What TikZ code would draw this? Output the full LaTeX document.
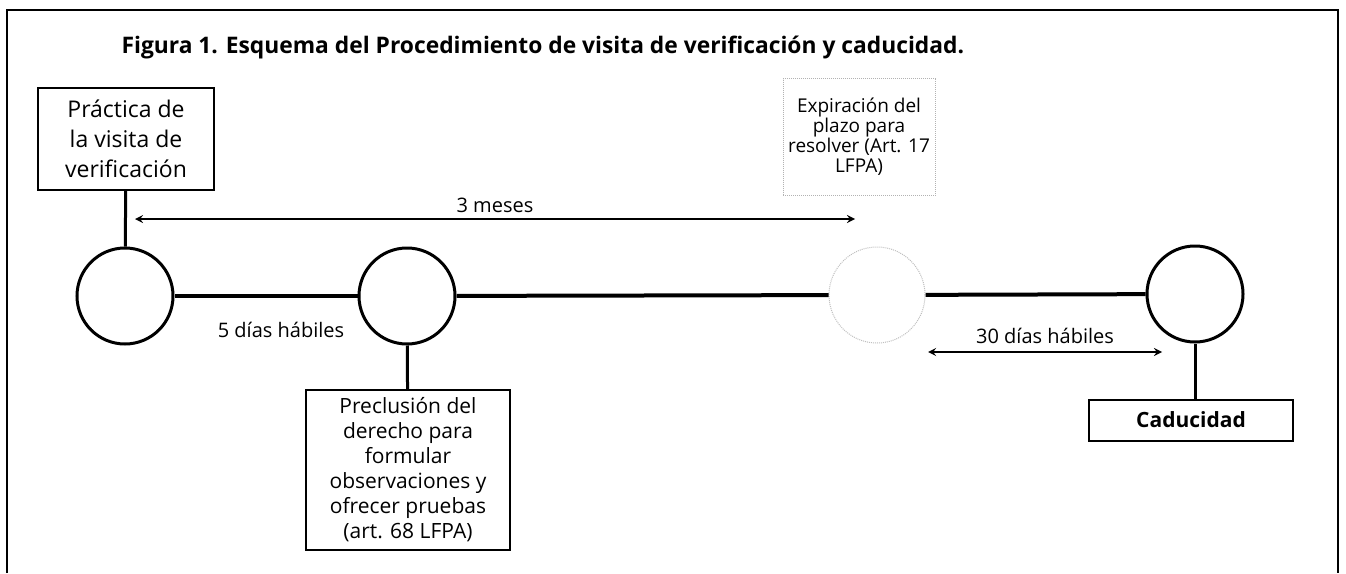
\documentclass[tikz,border=0pt]{standalone}
\usepackage{fontspec}
\setmainfont{Open Sans}
\begin{document}
\begin{tikzpicture}[x=1pt,y=-1pt,
	caja/.style={draw,line width=2pt,align=center,inner sep=0pt,
		font=\fontsize{21}{25}\selectfont},
	hito/.style={circle,draw,line width=3pt,minimum size=96pt,inner sep=0pt},
	eje/.style={line width=4pt},
	enlace/.style={line width=3pt},
	flecha/.style={<->,>=stealth,line width=2.5pt},
	rotulo/.style={font=\fontsize{20}{22}\selectfont}]
	\useasboundingbox (0,0) rectangle (1346,573);
	\draw[line width=2pt] (7,573) -- (7,10) -- (1338,10) -- (1338,573);
	\node[anchor=base west,font=\bfseries\fontsize{22.8}{26}\selectfont] (titulo) at (118,53)
	{Figura 1. Esquema del Procedimiento de visita de verificación y caducidad.};
	% hitos sobre la linea de tiempo
	\node[hito] (c1) at (125,296) {};
	\node[hito] (c2) at (407,296) {};
	\node[hito,draw=gray!50,line width=1pt,densely dotted] (c3) at (877,295) {};
	\node[hito] (c4) at (1195,294) {};
	\draw[eje] (c1) -- (c2);
	\draw[eje] (c2) -- (c3);
	\draw[eje] (c3) -- (c4);
	% cajas
	\node[caja,minimum width=176pt,minimum height=102pt,font=\fontsize{23}{30}\selectfont]
	(caja1) at (126,139) {Práctica de\\la visita de\\verificación};
	\node[caja,minimum width=204pt,minimum height=160pt] (caja2) at (408,470)
	{Preclusión del\\derecho para\\formular\\observaciones y\\ofrecer pruebas\\(art. 68 LFPA)};
	\node[caja,draw=gray!60,line width=1pt,densely dotted,minimum width=152pt,
	minimum height=117pt,font=\fontsize{19}{20}\selectfont] (caja3) at (859,137)
	{Expiración del\\plazo  para\\resolver (Art. 17\\LFPA)};
	\node[caja,minimum width=204pt,minimum height=41pt,font=\bfseries\fontsize{21}{22}\selectfont]
	(caja4) at (1191,420) {Caducidad};
	\draw[enlace] (caja1) -- (c1);
	\draw[enlace] (c2) -- (caja2);
	\draw[enlace] (c4) -- (caja4.north -| c4);
	% plazos
	\coordinate (m1) at (135,219);
	\coordinate (m2) at (855,219);
	\draw[flecha] (m1) -- node[rotulo,above,yshift=2pt] (meses) {3 meses} (m2);
	\coordinate (d1) at (928,352);
	\draw[flecha] (d1) -- node[rotulo,above,yshift=4pt] (treinta) {30 días hábiles} (1162,352);
	\node[rotulo] (cinco) at (281,330) {5 días hábiles};
\end{tikzpicture}
\end{document}
